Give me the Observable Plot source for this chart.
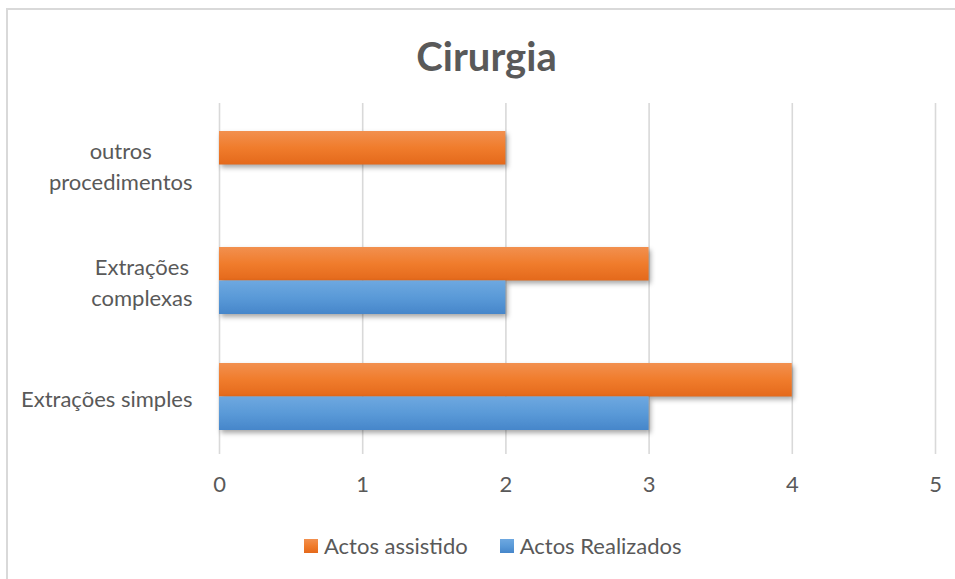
<!DOCTYPE html>
<html>
<head>
<meta charset="utf-8">
<script src="https://cdn.jsdelivr.net/npm/d3@7"></script>
<script src="https://cdn.jsdelivr.net/npm/@observablehq/plot@0.6"></script>
<style>
  html, body { margin: 0; padding: 0; width: 955px; height: 579px; overflow: hidden; background: #fff; }
  body { position: relative; font-family: Lato, "Open Sans", sans-serif; color: #595959; }
  #frame { position: absolute; left: 6px; top: 8px; width: 1000px; height: 700px; border-left: 2px solid #d9d9d9; border-top: 2px solid #d9d9d9; box-sizing: border-box; }
  #title { position: absolute; left: 0; top: 30px; width: 973px; text-align: center; font-weight: bold; font-size: 40px; line-height: 52px; color: #595959; }
  #chart { position: absolute; left: 0; top: 90px; }
  #legend { position: absolute; left: 304px; top: 531px; display: flex; align-items: center; font-size: 22px; line-height: 30px; color: #595959; }
  .item { display: flex; align-items: center; margin-right: 32px; }
  .swatch { width: 14px; height: 14px; margin-right: 6px; }
</style>
</head>
<body>
<div id="frame"></div>
<div id="title">Cirurgia</div>
<div id="chart"></div>
<div id="legend"></div>
<script>
const chartTitle = "Cirurgia";
const categories = ["outros procedimentos", "Extrações complexas", "Extrações simples"];
const categoryLabels = ["outros\nprocedimentos", "Extrações\ncomplexas", "Extrações simples"];
const seriesNames = ["Actos assistido", "Actos Realizados"];
const actosAssistido = [2, 3, 4];
const actosRealizados = [0, 2, 3];
const xTicks = [0, 1, 2, 3, 4, 5];

const seriesColors = {
  "Actos assistido": ["#f2904f", "#f07c2c", "#e4691b"],
  "Actos Realizados": ["#6ea8e0", "#5a9ad8", "#4686ca"]
};
const gradIds = {"Actos assistido": "gOrange", "Actos Realizados": "gBlue"};

const assistData = categories.map((c, i) => ({category: c, value: actosAssistido[i], series: seriesNames[0]}));
const realData = categories.map((c, i) => ({category: c, value: actosRealizados[i], series: seriesNames[1]}));

// measure label widths to center lines within a right-aligned block
const ctx = document.createElement("canvas").getContext("2d");
ctx.font = "22px Lato";
const labelRight = 27; // gap from axis to right edge of label block
const labelData = categories.map((c, i) => {
  const lines = categoryLabels[i].split("\n");
  const w = Math.max(...lines.map(l => ctx.measureText(l).width));
  return {category: c, label: categoryLabels[i], dx: -(labelRight + w / 2)};
});

const W = 955, H = 420;
const plot = Plot.plot({
  width: W,
  height: H,
  marginLeft: 219,
  marginRight: 20,
  marginTop: 13,
  marginBottom: 56,
  style: {fontFamily: "Lato, 'Open Sans', sans-serif", fontSize: "22px", color: "#595959", background: "transparent"},
  x: {domain: [0, 5], ticks: xTicks, label: null},
  y: {domain: categories, range: [17, 365], paddingInner: 0.4224, paddingOuter: 0.2112, axis: null, label: null},
  marks: [
    Plot.ruleX(xTicks, {stroke: "#d9d9d9", strokeWidth: 1.6}),
    Plot.barX(assistData, {x: "value", y: "category", fill: "url(#gOrange)", insetBottom: 33.5}),
    Plot.barX(realData.filter(d => d.value > 0), {x: "value", y: "category", fill: "url(#gBlue)", insetTop: 33.5}),
    Plot.axisX({ticks: xTicks, tickSize: 0, tickPadding: 22, fontSize: 22, fill: "#595959", label: null, tickFormat: d => String(d)}),
    ...labelData.map(d => Plot.text([d], {y: "category", text: "label", frameAnchor: "left", dx: d.dx, textAnchor: "middle", lineHeight: 1.4, fontSize: 22, fill: "#595959"}))
  ]
});

// gradient + shadow defs
const ns = "http://www.w3.org/2000/svg";
const defs = document.createElementNS(ns, "defs");
for (const s of seriesNames) {
  const g = document.createElementNS(ns, "linearGradient");
  g.setAttribute("id", gradIds[s]);
  g.setAttribute("x1", "0"); g.setAttribute("y1", "0"); g.setAttribute("x2", "0"); g.setAttribute("y2", "1");
  seriesColors[s].forEach((col, k) => {
    const st = document.createElementNS(ns, "stop");
    st.setAttribute("offset", String(k / 2));
    st.setAttribute("stop-color", col);
    g.appendChild(st);
  });
  defs.appendChild(g);
}
plot.insertBefore(defs, plot.firstChild);
plot.querySelectorAll('g[aria-label="bar"]').forEach(g => {
  g.style.filter = "drop-shadow(2px 3px 2.5px rgba(0,0,0,0.35))";
});
document.getElementById("chart").appendChild(plot);
document.getElementById("title").textContent = chartTitle;

const legend = document.getElementById("legend");
for (const s of seriesNames) {
  const item = document.createElement("div");
  item.className = "item";
  const sw = document.createElement("div");
  sw.className = "swatch";
  const c = seriesColors[s];
  sw.style.background = `linear-gradient(${c[0]}, ${c[1]}, ${c[2]})`;
  const t = document.createElement("span");
  t.textContent = s;
  item.appendChild(sw); item.appendChild(t);
  legend.appendChild(item);
}
</script>
</body>
</html>
